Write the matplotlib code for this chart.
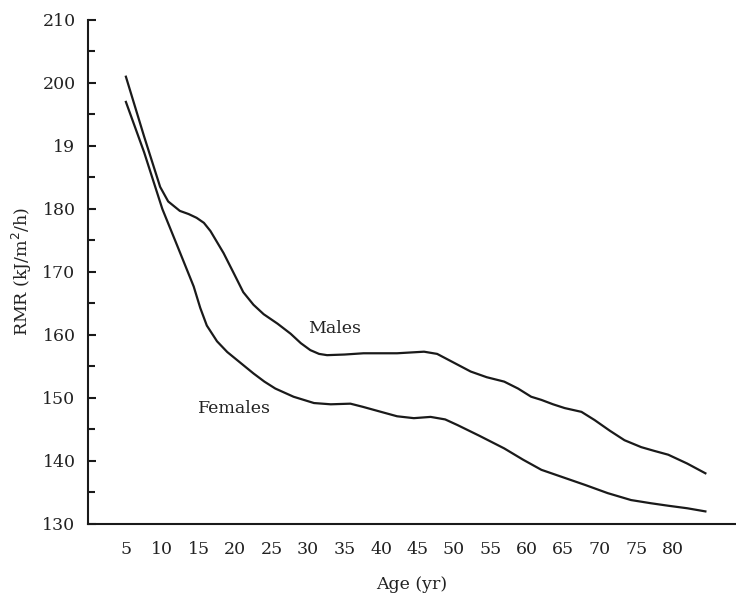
import matplotlib
matplotlib.use("Agg")
import matplotlib.pyplot as plt
from matplotlib.ticker import MultipleLocator

plt.rcParams['font.family'] = ['DejaVu Serif']

males_age = [5, 7.5, 9.7, 10.8, 12.4, 13.6, 14.7, 15.7, 16.6, 18.4, 19.8, 21.1,
             22.5, 23.9, 25.8, 27.6, 29.0, 30.3, 31.5, 32.6, 35.0, 37.6, 42.2,
             45.9, 47.7, 50.0, 52.3, 54.5, 56.9, 58.8, 60.6, 62.0, 63.6, 65.2,
             67.5, 69.3, 71.4, 73.4, 75.7, 77.5, 79.4, 82.0, 84.5]
males_rmr = [201.0, 191.5, 183.5, 181.2, 179.7, 179.2, 178.6, 177.8, 176.5, 173.0,
             169.8, 166.8, 164.8, 163.3, 161.8, 160.2, 158.7, 157.6, 157.0, 156.8,
             156.9, 157.1, 157.1, 157.35, 157.0, 155.6, 154.2, 153.3, 152.6, 151.5,
             150.2, 149.7, 149.0, 148.4, 147.8, 146.5, 144.8, 143.3, 142.2, 141.6,
             141.0, 139.6, 138.05]

females_age = [5, 7.5, 10.0, 12.0, 14.3, 15.2, 16.1, 17.5, 18.9, 20.7, 22.5, 24.0,
               25.5, 28.0, 30.8, 33.1, 35.8, 37.5, 40.0, 42.2, 44.5, 46.8, 48.8,
               50.5, 53.5, 56.9, 59.5, 62.0, 65.0, 68.0, 71.1, 74.3, 77.0, 79.4,
               82.0, 84.5]
females_rmr = [197.0, 189.0, 180.0, 174.3, 167.7, 164.3, 161.5, 159.0, 157.3, 155.6,
               153.9, 152.6, 151.5, 150.2, 149.2, 149.0, 149.1, 148.6, 147.8, 147.1,
               146.8, 147.0, 146.6, 145.7, 144.0, 142.0, 140.2, 138.6, 137.4, 136.2,
               134.9, 133.8, 133.3, 132.9, 132.5, 132.0]

x_ticks = [5, 10, 15, 20, 25, 30, 35, 40, 45, 50, 55, 60, 65, 70, 75, 80]
y_ticks = [130, 140, 150, 160, 170, 180, 190, 200, 210]
y_tick_labels = ['130', '140', '150', '160', '170', '180', '19', '200', '210']

FS = 12.5
TXT = '#222222'
LINE = '#1a1a1a'

fig = plt.figure(figsize=(7.36, 5.96), dpi=100)
ax = fig.add_axes([88/736, 1 - 524/596, 1 - 88/736, (524 - 20)/596])

ax.plot(males_age, males_rmr, color=LINE, lw=1.6, solid_joinstyle='round')
ax.plot(females_age, females_rmr, color=LINE, lw=1.6, solid_joinstyle='round')

ax.set_xlim(-0.2, 88.7)
ax.set_ylim(130, 210)

for s in ['top', 'right']:
    ax.spines[s].set_visible(False)
for s in ['left', 'bottom']:
    ax.spines[s].set_linewidth(1.5)
    ax.spines[s].set_color(LINE)

ax.set_yticks(y_ticks)
ax.set_yticklabels(y_tick_labels, fontsize=FS, color=TXT)
ax.yaxis.set_minor_locator(MultipleLocator(5))
ax.tick_params(axis='y', which='major', direction='in', length=6, width=1.5, pad=9, color=LINE)
ax.tick_params(axis='y', which='minor', direction='in', length=5, width=1.5, color=LINE)

ax.set_xticks(x_ticks)
ax.set_xticklabels([str(v) for v in x_ticks], fontsize=FS, color=TXT)
ax.tick_params(axis='x', which='major', length=0, pad=12)

ax.set_xlabel('Age (yr)', fontsize=FS, color=TXT, labelpad=13)
ax.set_ylabel('RMR (kJ/m$^2$/h)', fontsize=FS, color=TXT, labelpad=6)

ax.text(30.0, 160.3, 'Males', fontsize=FS, color=TXT, ha='left', va='baseline')
ax.text(14.9, 147.6, 'Females', fontsize=FS, color=TXT, ha='left', va='baseline')

fig.savefig('out.png', dpi=100)
